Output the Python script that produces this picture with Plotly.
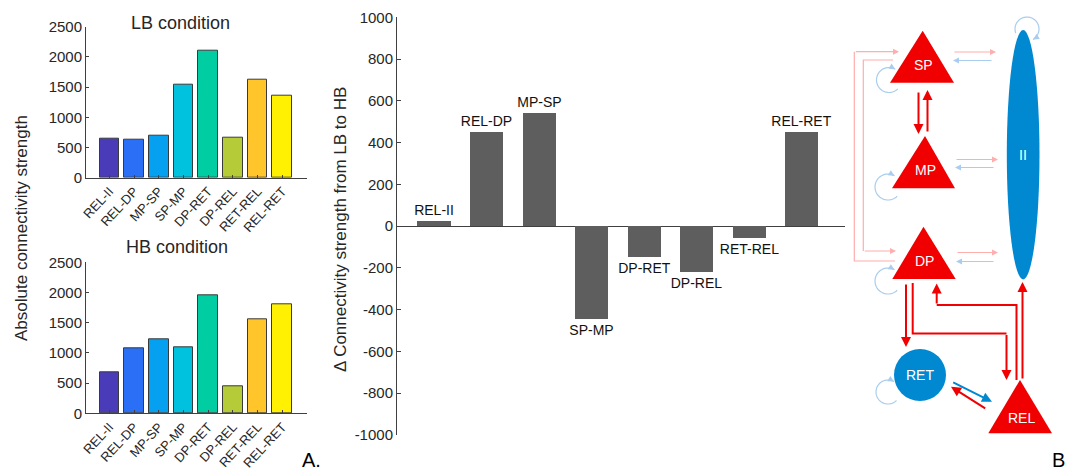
import plotly.graph_objects as go
import math

# ---------------- data ----------------
categories = ["REL-II", "REL-DP", "MP-SP", "SP-MP", "DP-RET", "DP-REL", "RET-REL", "REL-RET"]
lb_values = [648, 630, 695, 1540, 2105, 668, 1615, 1362]
hb_values = [672, 1078, 1233, 1092, 1955, 447, 1560, 1808]
delta_values = [25, 448, 539, -448, -148, -220, -56, 447]
bar_colors = ["#4a3cb9", "#2b6ff6", "#05a0f0", "#00c1de", "#00cea2", "#b5cc38", "#ffc52a", "#fff101"]
abs_ticks = [0, 500, 1000, 1500, 2000, 2500]
delta_ticks = [-1000, -800, -600, -400, -200, 0, 200, 400, 600, 800, 1000]
delta_ticktext = [str(v) for v in delta_ticks]

W, H = 1067, 471
FONT = "Liberation Sans, Arial, sans-serif"
AX = "#404040"
TXT = "#262626"


def px(x):
    return x / W


def py(y):
    return 1 - y / H


xpos = list(range(1, len(categories) + 1))

fig = go.Figure()

fig.add_trace(go.Bar(x=xpos, y=lb_values, marker=dict(color=bar_colors, line=dict(color="#3a3a3a", width=1)),
                     width=0.8, xaxis="x", yaxis="y", showlegend=False, hoverinfo="skip"))
fig.add_trace(go.Bar(x=xpos, y=hb_values, marker=dict(color=bar_colors, line=dict(color="#3a3a3a", width=1)),
                     width=0.8, xaxis="x2", yaxis="y2", showlegend=False, hoverinfo="skip"))
fig.add_trace(go.Bar(x=xpos, y=delta_values, marker=dict(color="#5e5e5e", line=dict(width=0)),
                     width=0.63, xaxis="x3", yaxis="y3", showlegend=False, hoverinfo="skip",
                     text=categories, textposition="outside", constraintext="none", cliponaxis=False,
                     textfont=dict(size=14, color="#111111", family=FONT)))

small_x = dict(range=[0.05, 9.0], tickvals=xpos, ticktext=categories, tickangle=-47,
               showline=True, linecolor=AX, linewidth=1, ticks="inside", ticklen=3, tickcolor=AX,
               showgrid=False, zeroline=False, tickfont=dict(size=13, color=TXT, family=FONT),
               domain=[px(86), px(307)], automargin=False)
small_y = dict(range=[0, 2500], tickvals=abs_ticks, showline=True, linecolor=AX, linewidth=1,
               ticks="inside", ticklen=3, tickcolor=AX, showgrid=False, zeroline=False,
               tickfont=dict(size=15, color=TXT, family=FONT), automargin=False)

fig.update_layout(
    width=W, height=H, autosize=False,
    margin=dict(l=0, r=0, t=0, b=0, pad=0, autoexpand=False),
    paper_bgcolor="white", plot_bgcolor="white",
    font=dict(family=FONT, color=TXT),
    bargap=0,
    xaxis=dict(small_x, anchor="y"),
    yaxis=dict(small_y, anchor="x", domain=[py(177.7), py(26.7)]),
    xaxis2=dict(small_x, anchor="y2"),
    yaxis2=dict(small_y, anchor="x2", domain=[py(413.3), py(262.3)]),
    xaxis3=dict(range=[0.297, 8.82], showticklabels=False, ticks="", showline=False,
                showgrid=False, zeroline=False, anchor="y3", domain=[px(397), px(845)], automargin=False),
    yaxis3=dict(range=[-1000, 1000], tickvals=delta_ticks, ticktext=delta_ticktext,
                showline=True, linecolor=AX, linewidth=1,
                ticks="inside", ticklen=4, tickcolor=AX, showgrid=False,
                zeroline=True, zerolinecolor=AX, zerolinewidth=1, automargin=False,
                tickfont=dict(size=15, color=TXT, family=FONT), anchor="x3", domain=[py(435), py(17.3)]),
)

ann = []


def text(x, y, s, size, color=TXT, angle=0):
    ann.append(dict(x=px(x), y=py(y), xref="paper", yref="paper", text=s, showarrow=False,
                    font=dict(size=size, color=color, family=FONT), textangle=angle,
                    xanchor="center", yanchor="middle"))


text(180, 23, "LB condition", 18)
text(177, 247, "HB condition", 18)
text(21.5, 228.5, "Absolute connectivity strength", 17, angle=-90)
text(340, 230, "Δ Connectivity strength from LB to HB", 17, angle=-90)
text(311, 460, "A.", 20, color="#000000")
text(1058, 460, "B", 20, color="#000000")

# ---------------- diagram ----------------
RED = "#f00000"
BLUE = "#0088d1"
LRED = "#ffadad"
LBLUE = "#a9cdee"
shapes = []


def path_shape(pts, fill=None, color=None, width=0, close=False):
    d = "M " + " L ".join(f"{px(x):.5f},{py(y):.5f}" for x, y in pts)
    if close:
        d += " Z"
    s = dict(type="path", path=d, xref="paper", yref="paper", layer="above")
    if fill:
        s["fillcolor"] = fill
        s["line"] = dict(width=0)
    else:
        s["line"] = dict(color=color, width=width)
    shapes.append(s)


def arrow(x0, y0, x1, y1, color, width=1.0, size=1.0):
    ann.append(dict(x=px(x1), y=py(y1), xref="paper", yref="paper", ax=x0 - x1, ay=y0 - y1,
                    axref="pixel", ayref="pixel", text="", showarrow=True, arrowhead=2,
                    arrowsize=size, arrowwidth=width, arrowcolor=color, standoff=0, startstandoff=0))


def polyarrow(pts, color, width=1.0, size=1.0):
    path_shape(pts[:-1], color=color, width=width)
    (x0, y0), (x1, y1) = pts[-2], pts[-1]
    arrow(x0, y0, x1, y1, color, width, size)


def tri(top, y_top, xl, xr, y_bot):
    path_shape([(top, y_top), (xl, y_bot), (xr, y_bot)], fill=RED, close=True)


def loop(cx, cy, r, a0, a1, color=LBLUE):
    n = 40
    pts = []
    for i in range(n + 1):
        a = math.radians(a0 + (a1 - a0) * i / n)
        pts.append((cx + r * math.cos(a), cy + r * math.sin(a)))
    path_shape(pts, color=color, width=1.2)
    a = math.radians(a1)
    tx, ty = -math.sin(a), math.cos(a)
    ex, ey = pts[-1]
    arrow(ex - 6 * tx, ey - 6 * ty, ex, ey, color, width=1.2, size=1.0)


# nodes
tri(922.7, 30.7, 890, 954, 82.7)
tri(925, 136, 892, 955, 188.3)
tri(923.5, 226.7, 892.3, 955.7, 279)
tri(1020, 380, 988.3, 1052, 433.3)
shapes.append(dict(type="circle", xref="paper", yref="paper", x0=px(894), x1=px(946),
                   y0=py(401), y1=py(349), fillcolor=BLUE, line=dict(width=0), layer="above"))
shapes.append(dict(type="circle", xref="paper", yref="paper", x0=px(1006.8), x1=px(1039.5),
                   y0=py(279.5), y1=py(30), fillcolor=BLUE, line=dict(width=0), layer="above"))

# pyramidal <-> II
arrow(953, 52, 996, 52, LRED, 1.2)
arrow(993, 60.5, 953, 60.5, LBLUE, 1.2)
arrow(955, 159.5, 998, 159.5, LRED, 1.2)
arrow(995, 167.5, 955, 167.5, LBLUE, 1.2)
arrow(956, 252.5, 998, 252.5, LRED, 1.2)
arrow(995, 261.5, 956, 261.5, LBLUE, 1.2)

# SP <-> DP (light red)
polyarrow([(893, 60), (863.3, 60), (863.3, 251), (896, 251)], LRED, 1.2)
polyarrow([(895, 261), (854.3, 261), (854.3, 51.7), (899, 51.7)], LRED, 1.2)

# SP <-> MP
arrow(918.5, 91, 918.5, 134, RED, 2)
arrow(927.5, 133, 927.5, 90, RED, 2)

# DP -> RET, DP -> REL, REL -> DP, REL -> II
arrow(906, 283, 906, 347, RED, 2)
polyarrow([(912.7, 283), (912.7, 333.5), (1006.5, 333.5), (1006.5, 380)], RED, 2)
polyarrow([(1016.5, 380), (1016.5, 305), (936.7, 305), (936.7, 283.5)], RED, 2)
arrow(1022.5, 380, 1022.5, 282, RED, 2)

# RET <-> REL
arrow(951.7, 381.7, 992, 401.7, BLUE, 2)
arrow(986.7, 409.3, 951, 386.7, RED, 2)

# self loops
loop(889, 80, 12.5, 45, 300)
loop(888, 187, 13, 45, 300)
loop(888, 281, 13, 45, 300)
loop(888, 392, 12, 45, 300)
loop(1027, 29, 12, 160, 420)

# node labels
text(923, 65, "SP", 14, color="white")
text(925, 170, "MP", 14, color="white")
text(924, 261, "DP", 14, color="white")
text(1021, 418, "REL", 14, color="white")
text(920, 375, "RET", 14, color="white")
text(1023, 155, "II", 14, color="white")

fig.update_layout(annotations=ann, shapes=shapes)
fig.write_html("out.html", config={"displayModeBar": False},
               post_script="document.body.style.margin='0';document.body.style.overflow='hidden';")
